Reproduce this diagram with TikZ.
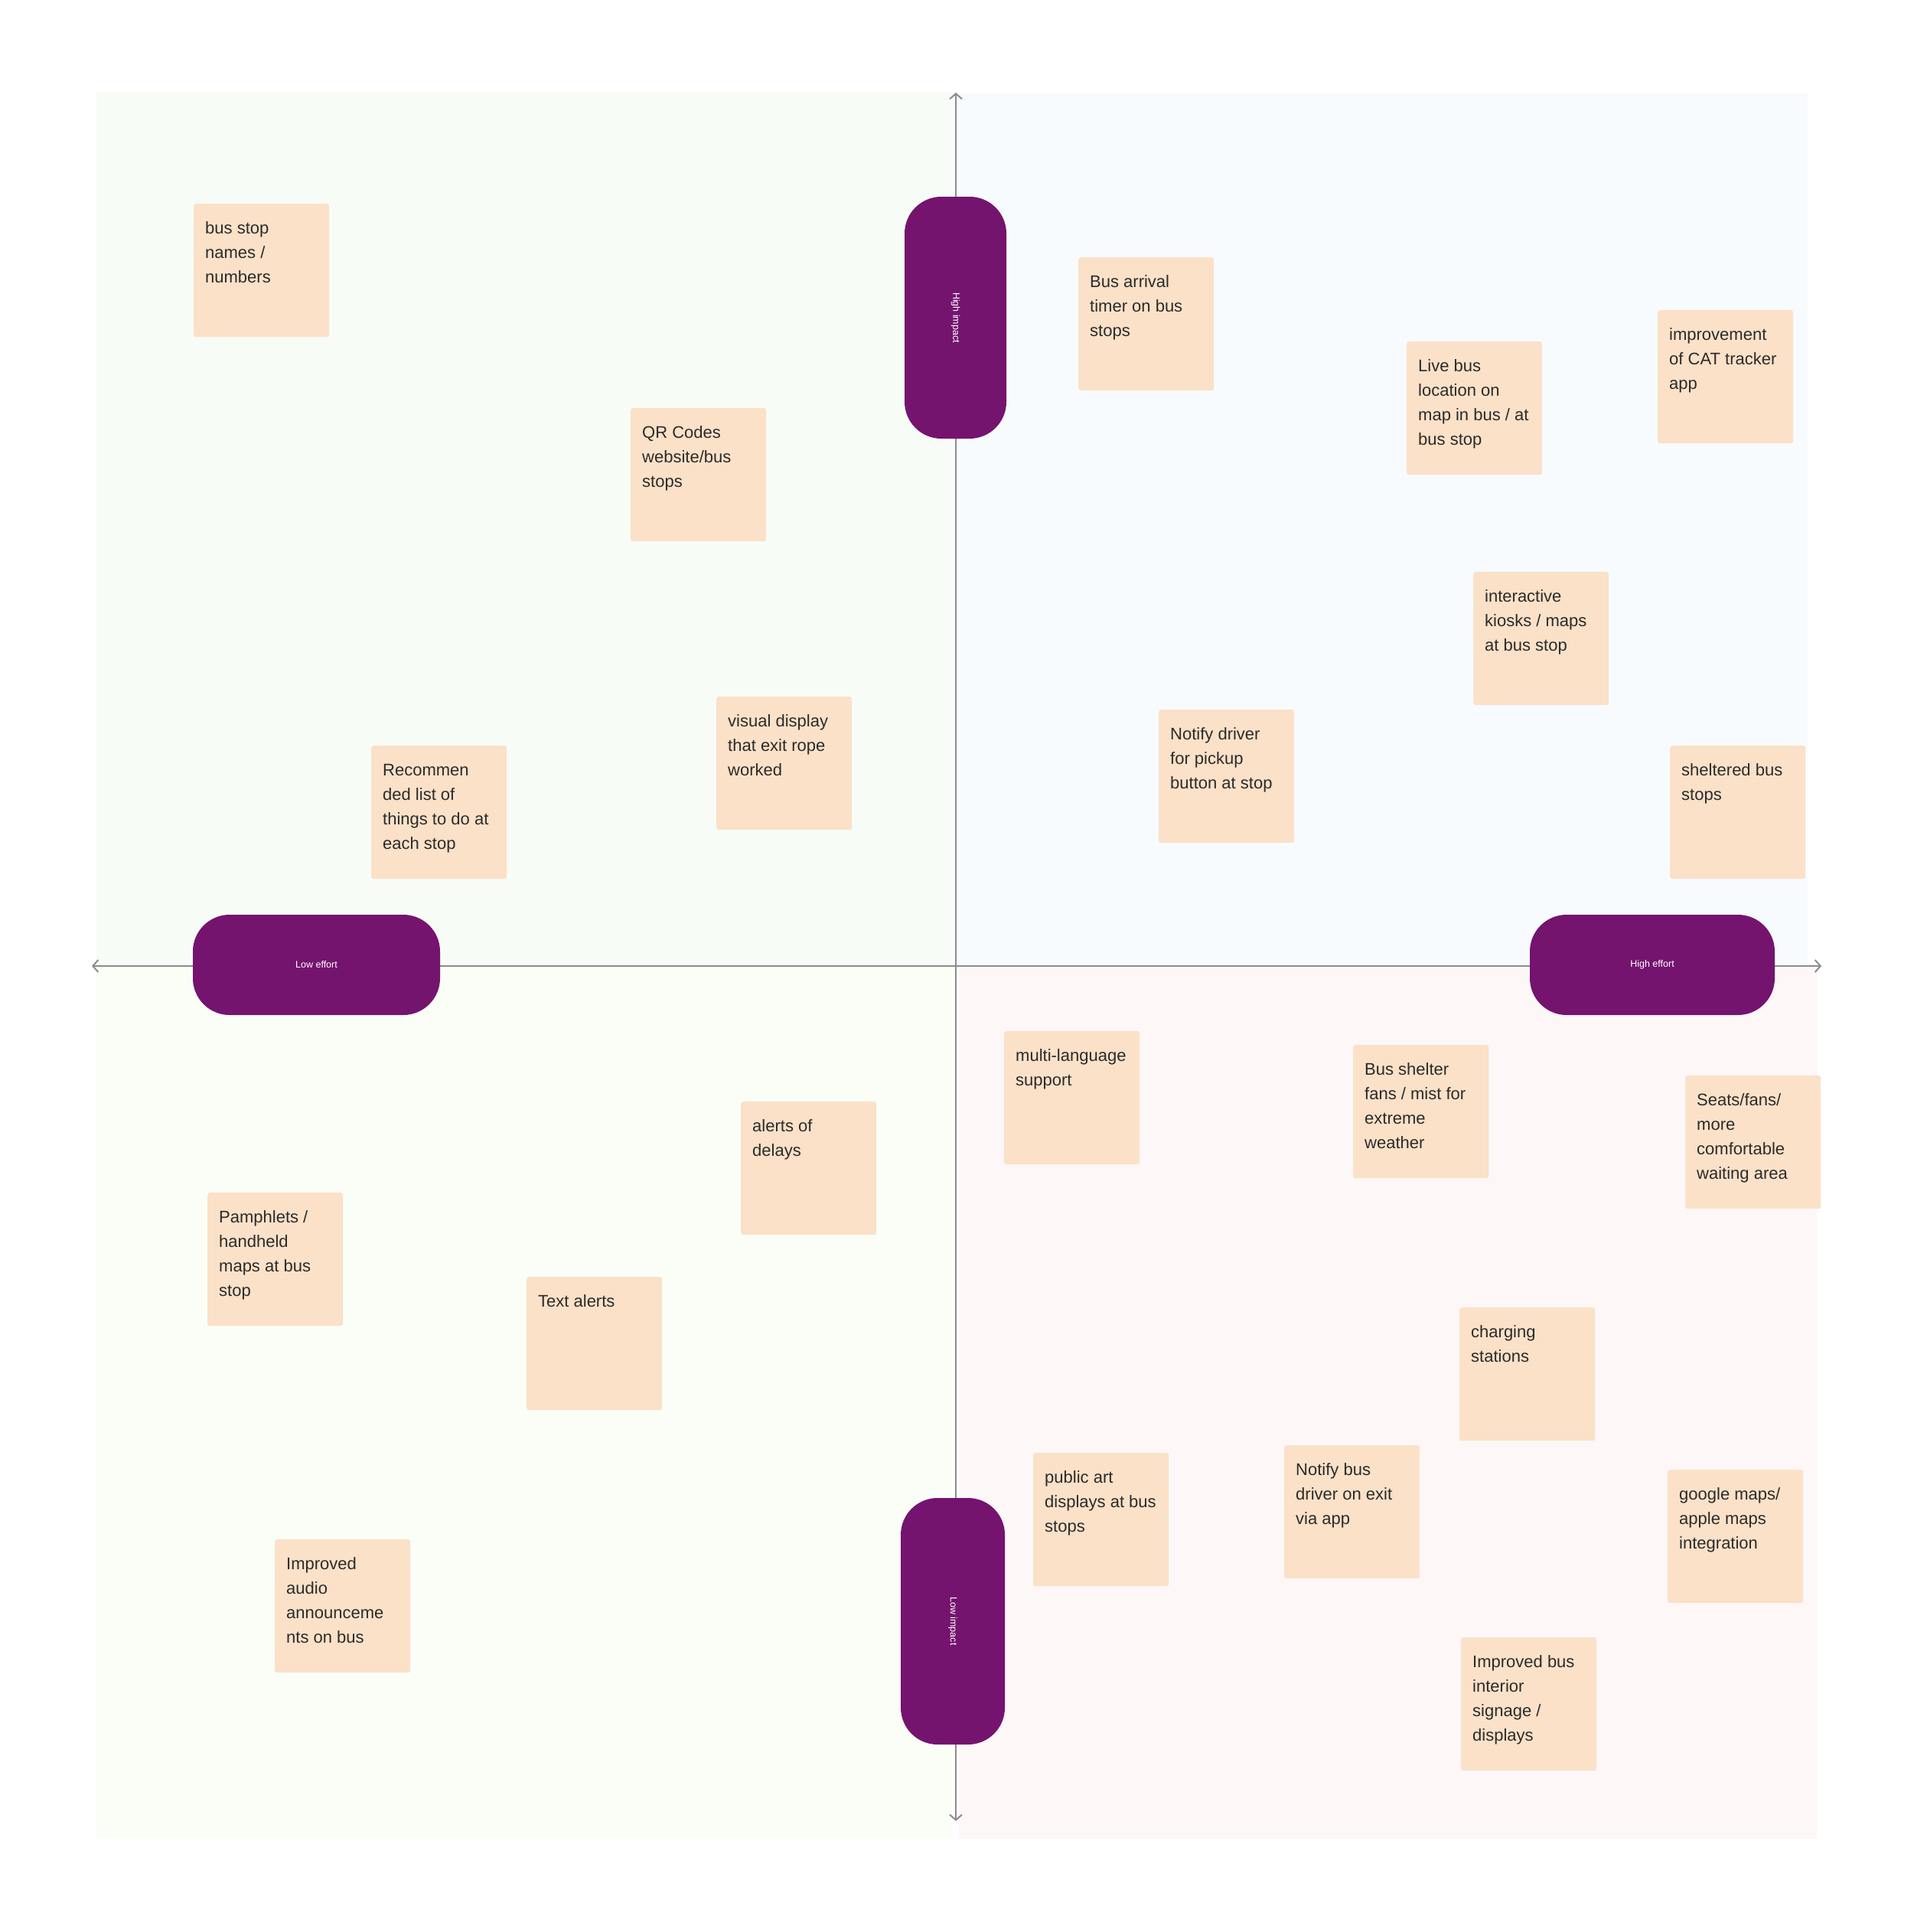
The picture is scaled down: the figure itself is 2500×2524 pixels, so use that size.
\documentclass[tikz,border=0pt]{standalone}
\usepackage{fontspec}
\setmainfont{Liberation Sans}
\usetikzlibrary{arrows.meta}
\definecolor{peach}{HTML}{FAE1C8}
\definecolor{notetext}{HTML}{2B2B2B}
\definecolor{pillpurple}{HTML}{74146F}
\definecolor{axisgray}{HTML}{8C8C8C}
\definecolor{qtl}{HTML}{F8FCF6}
\definecolor{qtr}{HTML}{F8FBFE}
\definecolor{qbl}{HTML}{FBFEF6}
\definecolor{qbr}{HTML}{FDF7F7}
\newcommand\notebox[1]{\parbox[c][174pt][t]{177pt}{\raggedright\leftskip=15pt\rule{0pt}{39.5pt}#1}}
\tikzset{
  note/.style={rectangle, fill=peach, rounded corners=3pt, inner sep=0pt, anchor=north west, text=notetext, font=\fontsize{22}{32}\selectfont},
  pill/.style={rectangle, fill=pillpurple, rounded corners=48pt, inner sep=0pt, text=white, font=\fontsize{12.5}{14}\selectfont},
  axisline/.style={draw=axisgray, line width=2pt, {Straight Barb[length=7pt,width=16pt,line width=2pt]}-{Straight Barb[length=7pt,width=16pt,line width=2pt]}}
}
\begin{document}
\begin{tikzpicture}[x=1pt,y=-1pt]
\useasboundingbox (0,0) rectangle (2500,2524);
\fill[white] (0,0) rectangle (2500,2524);
% quadrants
\fill[qtl] (126,121) rectangle (1243,1262);
\fill[qtr] (1243,121) rectangle (2362,1262);
\fill[qbl] (126,1262) rectangle (1245,2402);
\fill[qbr] (1253,1262) rectangle (2374,2402);
% axes
\coordinate (ytop) at (1249,121);
\coordinate (ybot) at (1249,2379);
\coordinate (xleft) at (120,1262);
\coordinate (xright) at (2380,1262);
\draw[axisline] (xleft) -- (xright);
\draw[axisline] (ytop) -- (ybot);
% pills
\node[pill, rotate=-90, minimum width=316pt, minimum height=133pt] (hi) at (1248.5,415) {High impact};
\node[pill, rotate=-90, minimum width=322pt, minimum height=136pt] (li) at (1245,2118) {Low impact};
\node[pill, minimum width=323pt, minimum height=131pt] (le) at (413.5,1260.5) {Low effort};
\node[pill, minimum width=320pt, minimum height=131pt] (he) at (2159,1260.5) {High effort};
% notes
\node[note] (n1) at (253,266) {\notebox{bus stop\\names /\\numbers}};
\node[note] (n2) at (824,533) {\notebox{QR Codes\\website/bus\\stops}};
\node[note] (n3) at (1409,336) {\notebox{Bus arrival\\timer on bus\\stops}};
\node[note] (n4) at (1838,446) {\notebox{Live bus\\location on\\map in bus / at\\bus stop}};
\node[note] (n5) at (2166,405) {\notebox{improvement\\of CAT tracker\\app}};
\node[note] (n6) at (1925,747) {\notebox{interactive\\kiosks / maps\\at bus stop}};
\node[note] (n7) at (936,910) {\notebox{visual display\\that exit rope\\worked}};
\node[note] (n8) at (485,974) {\notebox{Recommen\\ded list of\\things to do at\\each stop}};
\node[note] (n9) at (1514,927) {\notebox{Notify driver\\for pickup\\button at stop}};
\node[note] (n10) at (2182,974) {\notebox{sheltered bus\\stops}};
\node[note] (n11) at (1312,1347) {\notebox{multi-language\\support}};
\node[note] (n12) at (1768,1365) {\notebox{Bus shelter\\fans / mist for\\extreme\\weather}};
\node[note] (n13) at (2202,1405) {\notebox{Seats/fans/\\more\\comfortable\\waiting area}};
\node[note] (n14) at (968,1439) {\notebox{alerts of\\delays}};
\node[note] (n15) at (271,1558) {\notebox{Pamphlets /\\handheld\\maps at bus\\stop}};
\node[note] (n16) at (688,1668) {\notebox{Text alerts}};
\node[note] (n17) at (1907,1708) {\notebox{charging\\stations}};
\node[note] (n18) at (1350,1898) {\notebox{public art\\displays at bus\\stops}};
\node[note] (n19) at (1678,1888) {\notebox{Notify bus\\driver on exit\\via app}};
\node[note] (n20) at (2179,1920) {\notebox{google maps/\\apple maps\\integration}};
\node[note] (n21) at (359,2011) {\notebox{Improved\\audio\\announceme\\nts on bus}};
\node[note] (n22) at (1909,2139) {\notebox{Improved bus\\interior\\signage /\\displays}};
\end{tikzpicture}
\end{document}
